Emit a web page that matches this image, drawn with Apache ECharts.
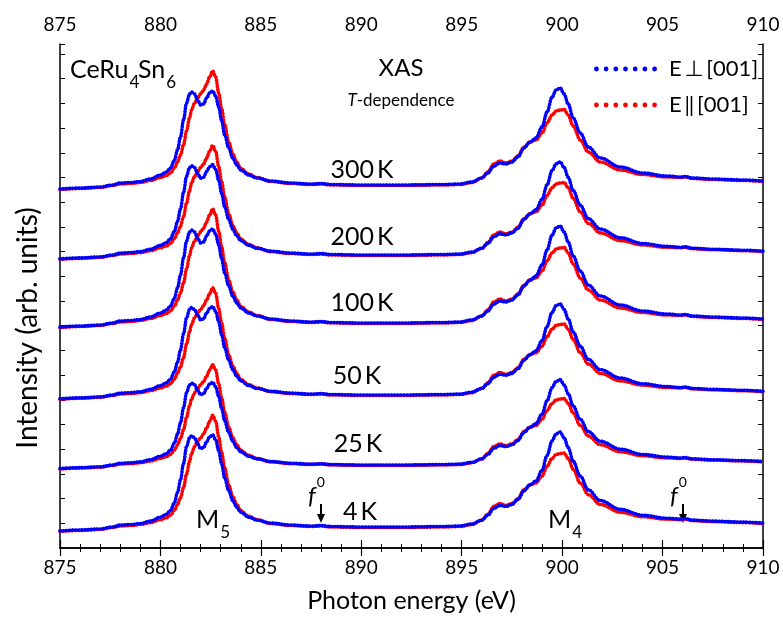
<!DOCTYPE html>
<html>
<head>
<meta charset="utf-8">
<script src="https://cdn.jsdelivr.net/npm/echarts@6/dist/echarts.min.js"></script>
<style>
  html, body { margin: 0; padding: 0; background: #fff; }
  #chart { width: 783px; height: 628px; }
</style>
</head>
<body>
<div id="chart"></div>
<script>
// photon energy grid (eV)
const energy = [875, 876, 877, 877.6, 878, 878.5, 879, 879.5, 880, 880.3,
  880.5, 880.7, 880.85, 881, 881.15, 881.3, 881.45, 881.55, 881.7, 881.85,
  882, 882.15, 882.3, 882.45, 882.6, 882.75, 882.9, 883.05, 883.2, 883.4,
  883.6, 883.8, 884, 884.4, 884.8, 885.5, 886.5, 887.5, 888, 888.5,
  890, 892, 894, 894.9, 895.5, 896, 896.3, 896.6, 896.9, 897.2,
  897.5, 897.8, 898.1, 898.4, 898.7, 899, 899.25, 899.5, 899.7, 899.9,
  900.1, 900.3, 900.55, 900.9, 901.3, 901.9, 902.9, 904, 905.2, 905.9,
  906.1, 906.5, 907.5, 909, 910];

// spectrum above its own baseline (arb. units), E perpendicular to [001]
const perpSpectrum = [-4, -3, -2, 0, 2, 2.5, 3.5, 6, 10, 13,
  17, 25, 35, 48, 65, 82, 91, 93, 91, 85,
  80, 81, 87, 92, 94, 89, 78, 64, 50, 37,
  27, 20, 15, 10, 7, 4, 2, 1, 1.5, 0.5,
  0, 0, 0.5, 1, 3, 7, 12, 19, 22, 21,
  23, 28, 37, 43, 47, 58, 73, 88, 95, 97,
  91, 81, 67, 52, 38, 27, 18, 12, 9, 8,
  8.5, 7, 6, 5, 4];

// E parallel to [001]
const paraSpectrum = [-4.5, -3.5, -2.5, -0.5, 1, 1.5, 2.5, 4.5, 7.5, 9.5,
  12, 17, 23, 30, 40, 54, 67, 75, 82, 87,
  91, 95, 101, 108, 114, 108, 92, 76, 60, 43,
  31, 23, 16.5, 11, 7.5, 3.5, 1.5, 0.5, 1, 0,
  -0.5, -0.5, 0, 0.5, 2.5, 7, 13, 21, 24, 22,
  24, 29, 38, 43, 45, 52, 62, 70, 74, 75,
  75.5, 70, 59, 45, 33, 23, 15, 10.5, 8, 7.5,
  8, 6.5, 5.5, 4.5, 3.5];

const temps = ['300 K', '200 K', '100 K', '50 K', '25 K', '4 K'];
const offsets = [363, 293, 225, 153, 83, 21];   // vertical shift of each spectrum
const gains = [1.0, 0.96, 1.0, 0.94, 0.88, 0.98];

const xTicks = [875, 880, 885, 890, 895, 900, 905, 910];

const PERP = 'E\u2009\u22A5\u2009[001]';
const PARA = 'E\u2009\u2016\u2009[001]';
const FONT = 'Lato, "DejaVu Sans", sans-serif';
const BLUE = '#0000ff';
const RED = '#ff0000';

const chart = echarts.init(document.getElementById('chart'));

function curve(spec, k) {
  return energy.map((e, i) => [e, offsets[k] + gains[k] * spec[i]]);
}

const series = [];
temps.forEach((t, k) => {
  [[PARA, paraSpectrum, RED], [PERP, perpSpectrum, BLUE]].forEach(([name, spec, color]) => {
    series.push({
      type: 'line',
      name: name,
      data: curve(spec, k),
      showSymbol: false,
      symbol: 'none',
      smooth: 0.35,
      smoothMonotone: 'x',
      color: color,
      lineStyle: { color: color, width: 3.6, type: [0.5, 2.6], cap: 'round' },
      silent: true,
      animation: false
    });
  });
});

// dotted legend sample
let dots = '';
for (let i = 0; i < 7; i++) {
  const cx = 2.5 + i * 9.67;
  dots += 'M' + (cx - 2.4) + ',2.5a2.4,2.4 0 1,0 4.8,0a2.4,2.4 0 1,0 -4.8,0';
}

const xAxisBase = {
  type: 'value',
  min: 875,
  max: 910,
  interval: 5,
  axisLine: { lineStyle: { color: '#000', width: 1.5 } },
  axisTick: { inside: false, length: 8, lineStyle: { color: '#000', width: 1.2 } },
  minorTick: { show: true, splitNumber: 5, length: 4, lineStyle: { color: '#000', width: 1 } },
  splitLine: { show: false },
  axisLabel: {
    color: '#000', fontSize: 19, fontFamily: FONT, margin: 10,
    formatter: v => (xTicks.indexOf(v) >= 0 ? String(v) : '')
  }
};

const yAxisBase = {
  type: 'value',
  min: 0,
  max: 504,
  interval: 24.7,
  axisLine: { show: true, lineStyle: { color: '#000', width: 1.5 } },
  axisTick: { show: true, inside: true, length: 5, lineStyle: { color: '#000', width: 1 } },
  axisLabel: { show: false },
  splitLine: { show: false }
};

function sub(main, s, size, subSize, drop) {
  return {
    text: '{a|' + main + '}{s|' + s + '}',
    rich: {
      a: { fontSize: size, fontFamily: FONT, fill: '#000', verticalAlign: 'top', lineHeight: size },
      s: { fontSize: subSize, fontFamily: FONT, fill: '#000', verticalAlign: 'top', lineHeight: subSize, padding: [drop, 0, 0, 1] }
    }
  };
}

function fZero(x, y) {
  return [
    {
      type: 'text', x: x - 13, y: y - 4, silent: true,
      style: {
        text: '{f|f}{s|0}',
        rich: {
          f: { fontSize: 24, fontFamily: FONT, fontStyle: 'italic', fill: '#000', verticalAlign: 'top', lineHeight: 24, padding: [9, 0, 0, 0] },
          s: { fontSize: 14, fontFamily: FONT, fill: '#000', verticalAlign: 'top', lineHeight: 14, padding: [0, 0, 0, 1] }
        }
      }
    },
    { type: 'line', silent: true, shape: { x1: x, y1: y + 25, x2: x, y2: y + 37 }, style: { stroke: '#000', lineWidth: 2 } },
    { type: 'polygon', silent: true, shape: { points: [[x - 4, y + 35], [x + 4, y + 35], [x, y + 44]] }, style: { fill: '#000' } }
  ];
}

const tempLabelPos = [[362, 170], [362, 237], [362, 303], [357, 376], [358, 444], [360, 512]];

const graphic = [
  { type: 'text', x: 70, y: 57, silent: true, style: sub('CeRu', '4', 25, 17, 17) },
  { type: 'text', x: 138, y: 57, silent: true, style: sub('Sn', '6', 25, 17, 17) },
  { type: 'text', x: 401, y: 68, silent: true,
    style: { text: 'XAS', fontSize: 24, fontFamily: FONT, fill: '#000', textAlign: 'center', textVerticalAlign: 'middle' } },
  { type: 'text', x: 401, y: 101, silent: true,
    style: {
      text: '{i|T}{n|-dependence}', textAlign: 'center', textVerticalAlign: 'middle',
      rich: {
        i: { fontSize: 17, fontFamily: FONT, fontStyle: 'italic', fill: '#000' },
        n: { fontSize: 17, fontFamily: FONT, fill: '#000' }
      }
    } },
  { type: 'text', x: 196, y: 507, silent: true, style: sub('M', '5', 25, 17, 17) },
  { type: 'text', x: 548, y: 507, silent: true, style: sub('M', '4', 25, 17, 17) },
  { type: 'text', x: 28, y: 328, rotation: Math.PI / 2, silent: true,
    style: { text: 'Intensity (arb. units)', fontSize: 28, fontFamily: FONT, fill: '#000', textAlign: 'center', textVerticalAlign: 'middle' } }
].concat(temps.map((t, k) => ({
  type: 'text', x: tempLabelPos[k][0], y: tempLabelPos[k][1], silent: true,
  style: { text: t.replace(' ', '\u2009'), fontSize: 25, fontFamily: FONT, fill: '#000', textAlign: 'center', textVerticalAlign: 'middle' }
}))).concat(fZero(321, 479), fZero(683, 479));

chart.setOption({
  animation: false,
  backgroundColor: '#fff',
  grid: { left: 60, right: 20, top: 44, bottom: 80 },
  legend: {
    data: [PERP, PARA],
    orient: 'vertical',
    left: 589,
    top: 53,
    itemWidth: 63,
    itemHeight: 5,
    itemGap: 14,
    icon: 'path://' + dots,
    itemStyle: { borderWidth: 0 },
    textStyle: { fontSize: 22, fontFamily: FONT, color: '#000', padding: [0, 0, 0, 7] }
  },
  xAxis: [
    Object.assign({}, xAxisBase, {
      position: 'bottom',
      name: 'Photon energy (eV)',
      nameLocation: 'middle',
      nameGap: 40,
      nameTextStyle: { fontSize: 25, fontFamily: FONT, color: '#000' }
    }),
    Object.assign({}, xAxisBase, { position: 'top' })
  ],
  yAxis: [
    Object.assign({}, yAxisBase, { position: 'left' }),
    Object.assign({}, yAxisBase, { position: 'right' })
  ],
  series: series,
  graphic: graphic
});
</script>
</body>
</html>
